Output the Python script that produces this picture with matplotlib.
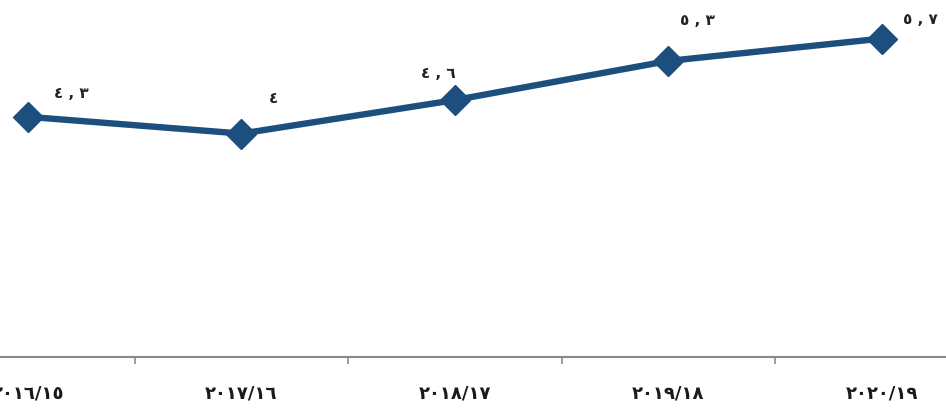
import matplotlib
matplotlib.use("Agg")
import matplotlib.pyplot as plt

# Fiscal years and values
years = ["٢٠١٦/١٥", "٢٠١٧/١٦", "٢٠١٨/١٧", "٢٠١٩/١٨", "٢٠٢٠/١٩"]
values = [4.3, 4.0, 4.6, 5.3, 5.7]
value_labels = ["٤ , ٣", "٤", "٤ , ٦", "٥ , ٣", "٥ , ٧"]

# label offsets (points) relative to each marker
label_offsets = [(31, 17), (23, 25), (-12, 19), (21, 29), (28, 14)]

navy = "#1d4f7e"

fig = plt.figure(figsize=(9.46, 4.11), dpi=100)
fig.patch.set_facecolor("white")
ax = fig.add_axes([0, 0.131, 1, 0.869])
ax.set_facecolor("white")

x = list(range(len(years)))
ax.plot(x, values, color=navy, lw=4.6, marker="D", ms=15,
        markerfacecolor=navy, markeredgecolor=navy, solid_joinstyle="round")

for xi, v, lab, off in zip(x, values, value_labels, label_offsets):
    ax.annotate(lab, (xi, v), xytext=off, textcoords="offset points",
                ha="center", va="center", fontsize=11, fontweight="bold",
                color="#222222", family="DejaVu Sans")

ax.set_xlim(-0.131, 4.30)
ax.set_ylim(0, 6.39)

for s in ["top", "right", "left"]:
    ax.spines[s].set_visible(False)
ax.spines["bottom"].set_color("#8a8a8a")
ax.spines["bottom"].set_linewidth(1.5)

ax.set_yticks([])
ax.set_xticks(x)
ax.set_xticklabels(years, fontsize=13, fontweight="bold", color="#1a1a1a",
                   family="DejaVu Sans")
ax.tick_params(axis="x", which="major", length=0, pad=20)
ax.set_xticks([i + 0.5 for i in range(len(years) - 1)], minor=True)
ax.tick_params(axis="x", which="minor", length=5, width=1.2, color="#8a8a8a")

fig.savefig("out.png", dpi=100)
